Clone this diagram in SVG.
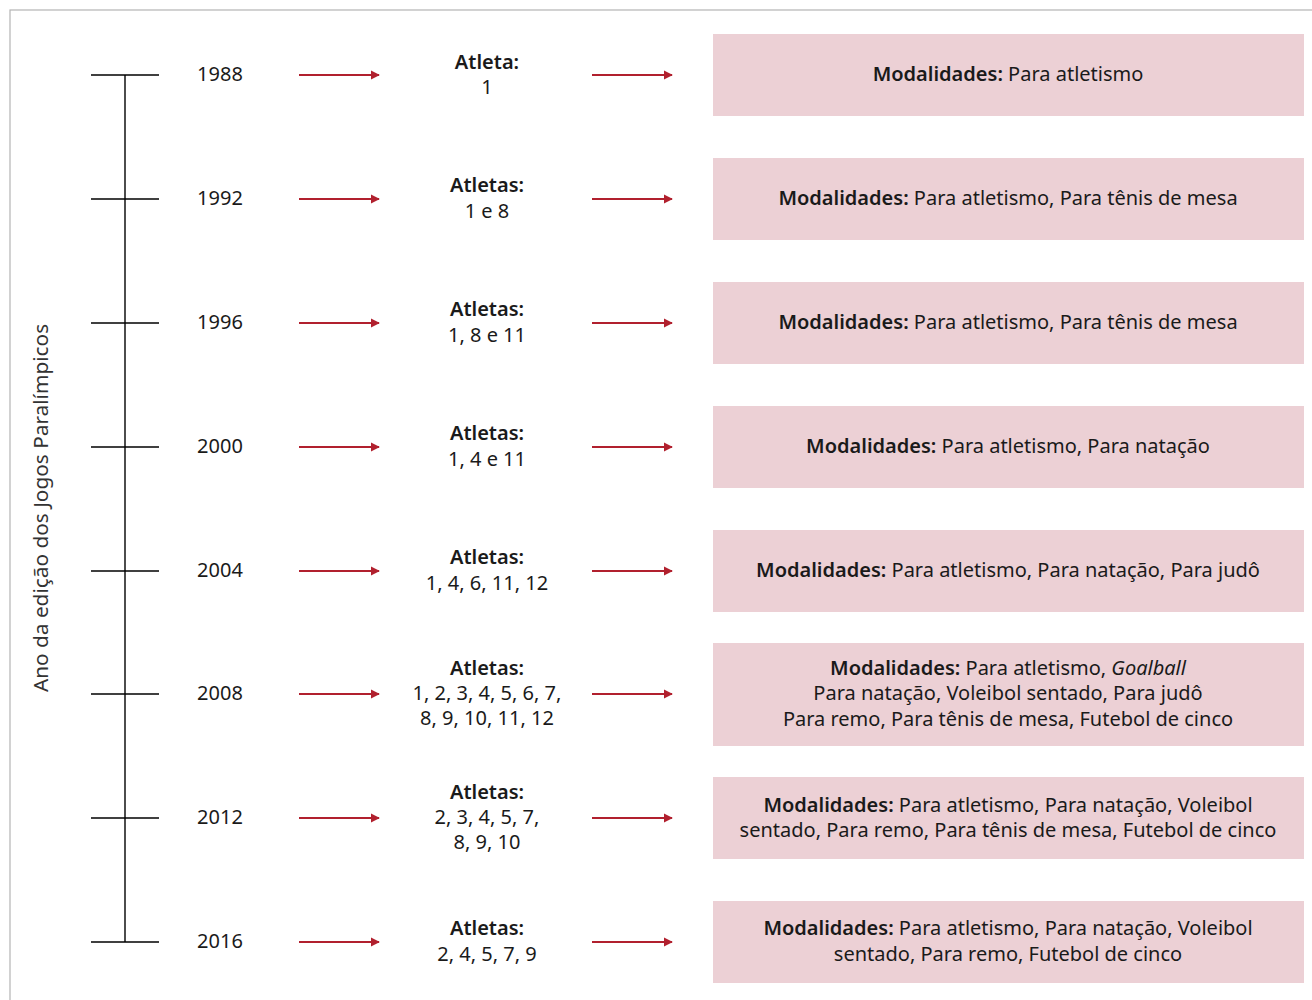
<svg xmlns="http://www.w3.org/2000/svg" width="1312" height="1000" viewBox="0 0 1312 1000">
<style>
text{font-family:"Noto Sans","Lato","Liberation Sans",sans-serif;font-size:20px;fill:#1a1a1a;text-anchor:middle}
.b{font-weight:600}
.i{font-style:italic}
.axis{stroke:#000;stroke-width:1.4;fill:none}
.box{fill:#ecd0d5}
.arr{stroke:#b1202e;stroke-width:1.8;fill:none}
.ah{fill:#b1202e}
</style>
<defs>
<marker id="m" viewBox="0 0 10 10" refX="9" refY="5" markerWidth="9" markerHeight="10" markerUnits="userSpaceOnUse" orient="auto"><path d="M0,0 L10,5 L0,10 Z" class="ah"/></marker>
</defs>
<rect x="10" y="10" width="1320" height="1010" fill="#fff" stroke="#b4b4b4" stroke-width="1.2"/>
<text transform="translate(48,508) rotate(-90)" style="fill:#333;font-size:20.8px">Ano da edição dos Jogos Paralímpicos</text>
<g id="axis">
<line class="axis" x1="125" y1="75" x2="125" y2="942"/>
<line class="axis" x1="91" y1="75" x2="159" y2="75"/>
<line class="axis" x1="91" y1="199" x2="159" y2="199"/>
<line class="axis" x1="91" y1="323" x2="159" y2="323"/>
<line class="axis" x1="91" y1="447" x2="159" y2="447"/>
<line class="axis" x1="91" y1="571" x2="159" y2="571"/>
<line class="axis" x1="91" y1="694" x2="159" y2="694"/>
<line class="axis" x1="91" y1="818" x2="159" y2="818"/>
<line class="axis" x1="91" y1="942" x2="159" y2="942"/>
</g>
<g id="connectors">
<line class="arr" x1="299" y1="75" x2="379" y2="75" marker-end="url(#m)"/>
<line class="arr" x1="592" y1="75" x2="672" y2="75" marker-end="url(#m)"/>
<line class="arr" x1="299" y1="199" x2="379" y2="199" marker-end="url(#m)"/>
<line class="arr" x1="592" y1="199" x2="672" y2="199" marker-end="url(#m)"/>
<line class="arr" x1="299" y1="323" x2="379" y2="323" marker-end="url(#m)"/>
<line class="arr" x1="592" y1="323" x2="672" y2="323" marker-end="url(#m)"/>
<line class="arr" x1="299" y1="447" x2="379" y2="447" marker-end="url(#m)"/>
<line class="arr" x1="592" y1="447" x2="672" y2="447" marker-end="url(#m)"/>
<line class="arr" x1="299" y1="571" x2="379" y2="571" marker-end="url(#m)"/>
<line class="arr" x1="592" y1="571" x2="672" y2="571" marker-end="url(#m)"/>
<line class="arr" x1="299" y1="694" x2="379" y2="694" marker-end="url(#m)"/>
<line class="arr" x1="592" y1="694" x2="672" y2="694" marker-end="url(#m)"/>
<line class="arr" x1="299" y1="818" x2="379" y2="818" marker-end="url(#m)"/>
<line class="arr" x1="592" y1="818" x2="672" y2="818" marker-end="url(#m)"/>
<line class="arr" x1="299" y1="942" x2="379" y2="942" marker-end="url(#m)"/>
<line class="arr" x1="592" y1="942" x2="672" y2="942" marker-end="url(#m)"/>
</g>
<g id="year-1988"><text x="220" y="81">1988</text></g>
<g id="year-1992"><text x="220" y="205">1992</text></g>
<g id="year-1996"><text x="220" y="329">1996</text></g>
<g id="year-2000"><text x="220" y="453">2000</text></g>
<g id="year-2004"><text x="220" y="577">2004</text></g>
<g id="year-2008"><text x="220" y="700">2008</text></g>
<g id="year-2012"><text x="220" y="824">2012</text></g>
<g id="year-2016"><text x="220" y="948">2016</text></g>

<g id="atl-1988"><text x="487" y="69" class="b">Atleta:</text><text x="487" y="94">1</text></g>
<g id="atl-1992"><text x="487" y="192" class="b">Atletas:</text><text x="487" y="218">1 e 8</text></g>
<g id="atl-1996"><text x="487" y="316" class="b">Atletas:</text><text x="487" y="342">1, 8 e 11</text></g>
<g id="atl-2000"><text x="487" y="440" class="b">Atletas:</text><text x="487" y="466">1, 4 e 11</text></g>
<g id="atl-2004"><text x="487" y="564" class="b">Atletas:</text><text x="487" y="590">1, 4, 6, 11, 12</text></g>
<g id="atl-2008"><text x="487" y="675" class="b">Atletas:</text><text x="487" y="700">1, 2, 3, 4, 5, 6, 7,</text><text x="487" y="725">8, 9, 10, 11, 12</text></g>
<g id="atl-2012"><text x="487" y="799" class="b">Atletas:</text><text x="487" y="824">2, 3, 4, 5, 7,</text><text x="487" y="849">8, 9, 10</text></g>
<g id="atl-2016"><text x="487" y="935" class="b">Atletas:</text><text x="487" y="961">2, 4, 5, 7, 9</text></g>

<g id="mod-1988"><rect class="box" x="713" y="34" width="591" height="82"/><text x="1008" y="81"><tspan class="b">Modalidades:</tspan> Para atletismo</text></g>
<g id="mod-1992"><rect class="box" x="713" y="158" width="591" height="82"/><text x="1008" y="205"><tspan class="b">Modalidades:</tspan> Para atletismo, Para tênis de mesa</text></g>
<g id="mod-1996"><rect class="box" x="713" y="282" width="591" height="82"/><text x="1008" y="329"><tspan class="b">Modalidades:</tspan> Para atletismo, Para tênis de mesa</text></g>
<g id="mod-2000"><rect class="box" x="713" y="406" width="591" height="82"/><text x="1008" y="453"><tspan class="b">Modalidades:</tspan> Para atletismo, Para natação</text></g>
<g id="mod-2004"><rect class="box" x="713" y="530" width="591" height="82"/><text x="1008" y="577"><tspan class="b">Modalidades:</tspan> Para atletismo, Para natação, Para judô</text></g>
<g id="mod-2008"><rect class="box" x="713" y="643" width="591" height="103"/><text x="1008" y="675"><tspan class="b">Modalidades:</tspan> Para atletismo, <tspan class="i">Goalball</tspan></text><text x="1008" y="700">Para natação, Voleibol sentado, Para judô</text><text x="1008" y="726">Para remo, Para tênis de mesa, Futebol de cinco</text></g>
<g id="mod-2012"><rect class="box" x="713" y="777" width="591" height="82"/><text x="1008" y="812"><tspan class="b">Modalidades:</tspan> Para atletismo, Para natação, Voleibol</text><text x="1008" y="837">sentado, Para remo, Para tênis de mesa, Futebol de cinco</text></g>
<g id="mod-2016"><rect class="box" x="713" y="901" width="591" height="82"/><text x="1008" y="935"><tspan class="b">Modalidades:</tspan> Para atletismo, Para natação, Voleibol</text><text x="1008" y="961">sentado, Para remo, Futebol de cinco</text></g>
</svg>
